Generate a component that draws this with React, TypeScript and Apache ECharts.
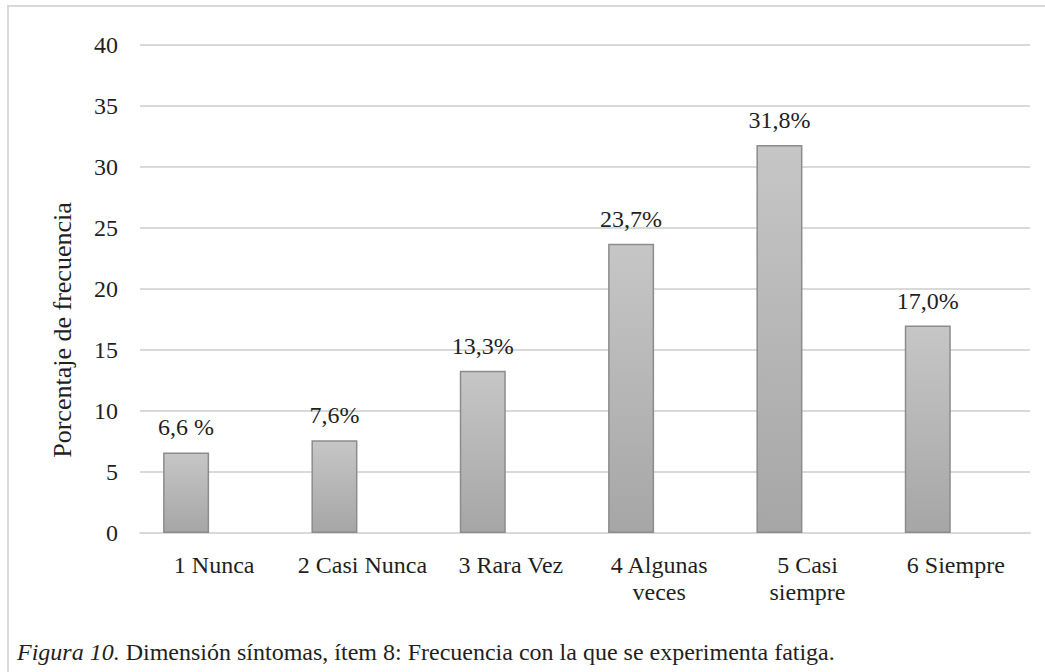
import React, { useEffect, useRef } from "react";
import * as echarts from "echarts";

// Response categories (x axis)
const categories: string[] = [
  "1 Nunca",
  "2 Casi Nunca",
  "3 Rara Vez",
  "4 Algunas\nveces",
  "5 Casi\nsiempre",
  "6 Siempre",
];

// Percentage of respondents for each category
const percentages: number[] = [6.6, 7.6, 13.3, 23.7, 31.8, 17.0];

// Text printed above each bar (same values, Spanish decimal comma)
const valueLabels: string[] = ["6,6 %", "7,6%", "13,3%", "23,7%", "31,8%", "17,0%"];

// Y axis range and step
const yMin = 0;
const yMax = 40;
const yStep = 5;

const yAxisTitle = "Porcentaje de frecuencia";
const captionItalic = "Figura 10.";
const captionText = " Dimensión síntomas, ítem 8: Frecuencia con la que se experimenta fatiga.";

const SERIF = "Liberation Serif";
const TEXT = "#1f1f1f";
const FS = 24;

export default function App() {
  const ref = useRef<HTMLDivElement>(null);

  useEffect(() => {
    if (!ref.current) return;
    const chart = echarts.init(ref.current, null, { renderer: "svg" });

    chart.setOption({
      animation: false,
      backgroundColor: "#ffffff",
      textStyle: { fontFamily: SERIF },
      grid: { left: 140, right: 15, top: 45, bottom: 139, containLabel: false },
      xAxis: {
        type: "category",
        data: categories,
        axisLine: { show: true, lineStyle: { color: "#d9d9d9", width: 2 } },
        axisTick: { show: false },
        axisLabel: {
          color: TEXT,
          fontFamily: SERIF,
          fontSize: FS,
          lineHeight: 27,
          margin: 18,
          interval: 0,
        },
      },
      yAxis: {
        type: "value",
        min: yMin,
        max: yMax,
        interval: yStep,
        axisLine: { show: false },
        axisTick: { show: false },
        axisLabel: {
          color: TEXT,
          fontFamily: SERIF,
          fontSize: FS,
          margin: 22,
        },
        splitLine: { lineStyle: { color: "#d9d9d9", width: 2 } },
      },
      series: [
        {
          type: "bar",
          data: percentages,
          barWidth: 46,
          barGap: "22%",
          itemStyle: {
            color: new echarts.graphic.LinearGradient(0, 0, 0, 1, [
              { offset: 0, color: "#c6c6c6" },
              { offset: 1, color: "#a6a6a6" },
            ]),
            borderColor: "#8c8c8c",
            borderWidth: 1.5,
          },
          label: {
            show: true,
            position: "top",
            distance: 13,
            color: TEXT,
            fontFamily: SERIF,
            fontSize: FS,
            formatter: (p: any) => valueLabels[p.dataIndex],
          },
        },
        {
          // empty companion series, keeps the bars shifted left in each slot
          type: "bar",
          data: percentages.map(() => null),
          barWidth: 46,
        },
      ],
      graphic: [
        {
          type: "rect",
          shape: { x: 8, y: 6, width: 1100, height: 720 },
          style: { fill: "none", stroke: "#d9d9d9", lineWidth: 2 },
          silent: true,
        },
        {
          type: "text",
          x: 62,
          y: 330,
          rotation: Math.PI / 2,
          style: {
            text: yAxisTitle,
            fill: TEXT,
            fontFamily: SERIF,
            fontSize: 26,
            align: "center",
            verticalAlign: "middle",
          },
        },
        {
          type: "text",
          x: 17,
          y: 652,
          style: {
            text: `{i|${captionItalic}}{r|${captionText}}`,
            verticalAlign: "middle",
            rich: {
              i: { fontFamily: SERIF, fontSize: FS, fontStyle: "italic", fill: TEXT },
              r: { fontFamily: SERIF, fontSize: FS, fill: TEXT },
            },
          },
        },
      ],
    });

    return () => chart.dispose();
  }, []);

  return (
    <div
      ref={ref}
      style={{ position: "absolute", left: 0, top: 0, width: 1045, height: 672 }}
    />
  );
}
